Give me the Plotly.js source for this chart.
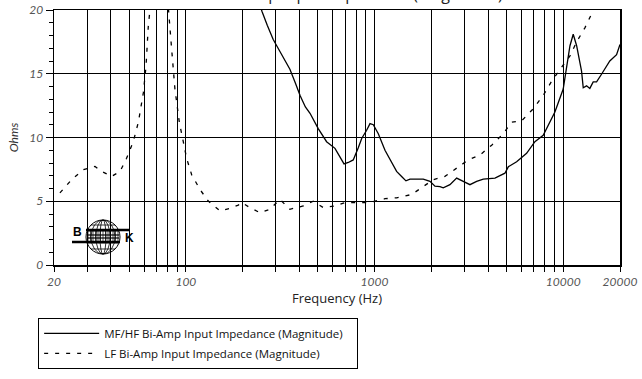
<!DOCTYPE html>
<html><head><meta charset="utf-8">
<script src="https://cdn.plot.ly/plotly-3.0.1.min.js"></script>
<style>html,body{margin:0;padding:0;background:#fff}#chart{width:642px;height:379px}</style>
</head><body><div id="chart"></div>
<script>
// MF/HF Bi-Amp input impedance (solid)
const mfFreq = [200,253,270,290,303,330,356,380,403,430,455,503,557,617,660,689,726,771,820,855,908,946,985,1047,1136,1220,1309,1400,1467,1541,1813,1967,2090,2222,2313,2510,2724,2953,3204,3477,3770,4348,4910,5117,5664,6397,7079,7834,8332,9036,10000,10420,10860,11300,11780,12510,12770,13300,13840,14420,15030,15960,17660,19180,20000];
const mfOhms = [25,19.9,18.8,17.7,17.2,16.2,15.35,14.3,13.3,12.4,11.9,10.7,9.67,9.15,8.4,7.93,8.04,8.24,9.2,9.92,10.57,11.09,11.0,10.3,9.0,8.1,7.34,6.9,6.6,6.74,6.74,6.56,6.18,6.15,6.05,6.3,6.82,6.56,6.3,6.56,6.74,6.82,7.2,7.7,8.1,8.76,9.67,10.18,10.95,12.0,13.8,15.6,17.2,18.1,17.2,15.2,13.9,14.05,13.85,14.36,14.36,14.96,16.0,16.5,17.3];
// LF Bi-Amp input impedance (dashed)
const lfFreq = [21.5,24.8,28.6,33.0,35.8,40.4,44.8,48.5,52.6,56.0,59.5,61.5,63.2,64.5,67,72,77,80.7,84.1,87.5,92.3,96.9,100.9,107.3,118.8,131.5,151.7,171.4,189.6,197.6,218.6,247,279,315,356,419,473,535,617,697,820,946,1136,1309,1573,1780,2047,2361,2724,3140,3622,4178,4810,5324,6012,6934,7834,8670,9797,10860,11780,13030,14150,16000];
const lfOhms = [5.66,6.69,7.47,7.73,7.34,6.95,7.34,8.37,9.67,11.2,13.5,15.6,18.7,20.0,24,27,24,19.9,16.9,13.8,11.2,9.67,8.37,7.08,5.92,5.01,4.24,4.44,4.7,4.9,4.5,4.1,4.37,5.14,4.37,4.63,5.0,4.5,4.63,4.9,4.9,4.9,5.2,5.27,5.53,6.1,6.69,6.95,7.6,8.24,8.63,9.4,10.3,11.2,11.3,12.25,13.3,14.4,15.5,16.4,17.5,18.6,19.7,21.5];
const seriesNames = ["MF/HF Bi-Amp Input Impedance (Magnitude)", "LF Bi-Amp Input Impedance (Magnitude)"];
const titleText = "MF/HF Bi-Amp Input Impedance (Magnitude)";
const xTickVals = [20,30,40,50,60,70,80,90,100,200,300,400,500,600,700,800,900,1000,2000,3000,4000,5000,6000,7000,8000,9000,10000,20000];
const xLabeled = [20,100,1000,10000,20000];
const xTickText = xTickVals.map(v => xLabeled.includes(v) ? String(v) : "");
const yTickVals = [0,5,10,15,20];

const tickFont = {family: "Lato, 'Open Sans', sans-serif", size: 12, color: "#555", style: "italic"};
const textFont = {family: "'Open Sans', sans-serif", size: 11.5, color: "#111"};

const traces = [
  {x: mfFreq, y: mfOhms, name: seriesNames[0] + "\u00a0\u00a0\u00a0", type: "scatter", mode: "lines",
   line: {color: "#000", width: 1.3}, legendgroup: "a"},
  {x: lfFreq, y: lfOhms, name: seriesNames[1], type: "scatter", mode: "lines",
   line: {color: "#000", width: 1.3, dash: "4px,7px"}, legendgroup: "b"}
];

// BK logo made of pixel-sized shapes anchored to the plot's lower-left corner
const shapes = [];
const cx = 49, cy = 28, r = 17;
function pxShape(o){ return Object.assign({xref:"paper", yref:"paper", xsizemode:"pixel", ysizemode:"pixel", xanchor:0, yanchor:0, layer:"above"}, o); }
shapes.push(pxShape({type:"circle", x0:cx-r, x1:cx+r, y0:cy-r, y1:cy+r, line:{color:"#000", width:1}}));
[12, 7, 3].forEach(rx => shapes.push(pxShape({type:"circle", x0:cx-rx, x1:cx+rx, y0:cy-r, y1:cy+r, line:{color:"#000", width:0.8}})));
[-12,-6,6,12].forEach(dy => { const hw = Math.sqrt(r*r-dy*dy); shapes.push(pxShape({type:"line", x0:cx-hw, x1:cx+hw, y0:cy+dy, y1:cy+dy, line:{color:"#000", width:0.8}})); });
for (let dx = -15; dx <= 15; dx += 2.5) shapes.push(pxShape({type:"line", x0:cx+dx, x1:cx+dx, y0:cy-5, y1:cy+7, line:{color:"#000", width:0.7}}));
shapes.push(pxShape({type:"line", x0:cx-17, x1:cx+27, y0:cy+7, y1:cy+7, line:{color:"#000", width:2.5}}));
shapes.push(pxShape({type:"line", x0:cx-16, x1:cx+16, y0:cy+2, y1:cy+2, line:{color:"#000", width:1.2}}));
shapes.push(pxShape({type:"line", x0:cx-16, x1:cx+16, y0:cy-1, y1:cy-1, line:{color:"#000", width:1.2}}));
shapes.push(pxShape({type:"line", x0:cx-31, x1:cx+17, y0:cy-5, y1:cy-5, line:{color:"#000", width:2.5}}));

const layout = {
  width: 642, height: 379,
  margin: {l: 54, r: 22, t: 10, b: 111},
  paper_bgcolor: "#fff", plot_bgcolor: "#fff",
  showlegend: true,
  legend: {x: -0.028, xanchor: "left", y: -0.207, yanchor: "top", bordercolor: "#000", borderwidth: 1,
           bgcolor: "#fff", font: textFont, tracegroupgap: 1, itemwidth: 55},
  xaxis: {type: "log", range: [Math.log10(20), Math.log10(20000)], tickmode: "array",
          tickvals: xTickVals, ticktext: xTickText, ticks: "outside", ticklen: 5, tickcolor: "#000",
          showgrid: true, gridcolor: "#000", gridwidth: 1, showline: true, linecolor: "#000", linewidth: 1.5,
          mirror: true, zeroline: false, tickfont: tickFont,
          title: {text: "Frequency (Hz)", font: {family: "'Open Sans', sans-serif", size: 13, color: "#222"}, standoff: 6}},
  yaxis: {range: [0, 20], tickmode: "array", tickvals: yTickVals, ticks: "outside", ticklen: 7, tickcolor: "#000",
          minor: {dtick: 1, ticks: "outside", ticklen: 4, tickcolor: "#000", showgrid: false},
          showgrid: true, gridcolor: "#000", gridwidth: 1, showline: true, linecolor: "#000", linewidth: 1.5,
          mirror: true, zeroline: false, tickfont: tickFont,
          title: {text: "Ohms", font: {family: "Lato, sans-serif", size: 12, color: "#333", style: "italic"}, standoff: 8}},
  shapes: shapes,
  annotations: [
    {text: titleText, xref: "paper", yref: "paper", x: 0.5, y: 1 + 16/258, yanchor: "middle", showarrow: false,
     font: {family: "'Open Sans', sans-serif", size: 16, color: "#222"}},
    {text: "<b>B</b>", xref: "paper", yref: "paper", x: 23/566, y: 33.5/258, xanchor: "center", yanchor: "middle", showarrow: false, font: {family: "Liberation Sans, Arial", size: 12, color: "#000"}},
    {text: "<b>K</b>", xref: "paper", yref: "paper", x: 75/566, y: 27/258, xanchor: "center", yanchor: "middle", showarrow: false, font: {family: "Liberation Sans, Arial", size: 12, color: "#000"}}
  ]
};
Plotly.newPlot("chart", traces, layout, {displayModeBar: false, staticPlot: true});
</script></body></html>
